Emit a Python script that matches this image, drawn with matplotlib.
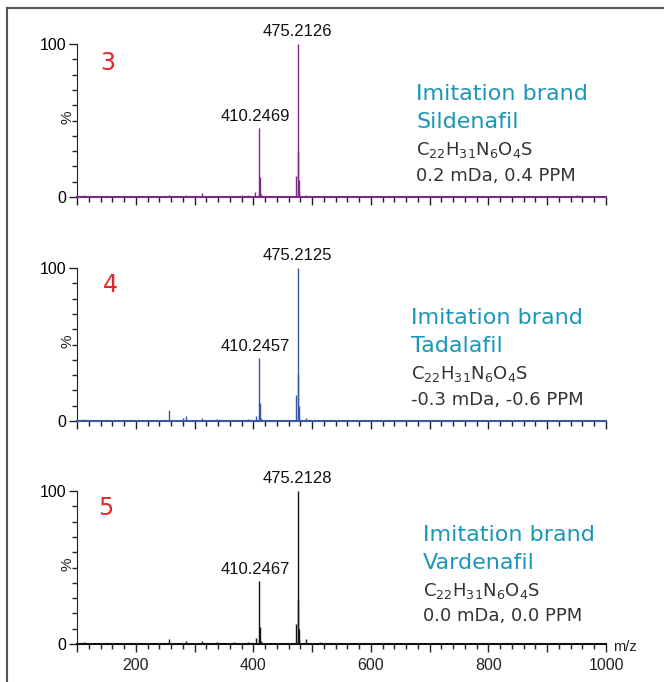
import matplotlib
matplotlib.use("Agg")
import matplotlib.pyplot as plt
from matplotlib.ticker import MultipleLocator
from matplotlib.lines import Line2D

# ---- data ----
panel_ids = ["3", "4", "5"]
compound_names = ["Sildenafil", "Tadalafil", "Vardenafil"]
error_texts = ["0.2 mDa, 0.4 PPM", "-0.3 mDa, -0.6 PPM", "0.0 mDa, 0.0 PPM"]
base_peak_labels = ["475.2126", "475.2125", "475.2128"]
frag_peak_labels = ["410.2469", "410.2457", "410.2467"]
series_colors = ["#7b2a85", "#3a56a6", "#111111"]

# main peaks (m/z, intensity %)
main_mz = [409.2, 410.25, 411.25, 412.25, 473.2, 475.21, 476.21, 477.21, 478.21]
main_int_1 = [3.0, 45.0, 13.0, 2.0, 14.0, 100.0, 30.0, 11.0, 3.0]
main_int_2 = [3.0, 41.0, 12.0, 2.0, 17.0, 100.0, 31.0, 10.0, 3.0]
main_int_3 = [3.0, 41.0, 11.0, 2.0, 13.0, 100.0, 29.0, 10.0, 3.0]

# minor peaks
minor_mz_1 = [112, 129, 150, 175, 198, 230, 257, 285, 312, 338, 365, 381, 391, 403, 446, 489, 520, 560, 605, 690, 760, 830, 890, 951]
minor_int_1 = [1.0, 0.6, 0.5, 0.6, 0.4, 0.5, 1.0, 1.2, 2.5, 0.8, 0.6, 1.2, 1.0, 3.5, 0.6, 1.5, 0.5, 0.4, 0.5, 0.4, 0.4, 0.4, 0.4, 1.0]
minor_mz_2 = [112, 129, 150, 175, 198, 230, 257, 280, 285, 312, 338, 365, 391, 404, 446, 489, 520, 560, 605, 690, 760, 830, 890, 951]
minor_int_2 = [1.0, 0.6, 0.5, 0.6, 0.4, 0.5, 7.0, 2.0, 3.5, 2.0, 1.0, 0.6, 1.5, 3.0, 0.6, 2.0, 0.5, 0.4, 0.5, 0.4, 0.4, 0.4, 0.4, 0.6]
minor_mz_3 = [112, 129, 140, 175, 198, 230, 257, 285, 312, 338, 351, 367, 391, 404, 446, 489, 513, 560, 605, 690, 760, 830, 890, 951]
minor_int_3 = [1.0, 0.8, 0.6, 0.6, 0.4, 0.5, 3.0, 2.2, 2.0, 1.0, 0.8, 1.0, 1.5, 4.0, 0.6, 3.0, 1.0, 0.4, 0.5, 0.4, 0.4, 0.4, 0.4, 0.6]

main_ints = [main_int_1, main_int_2, main_int_3]
minor_mzs = [minor_mz_1, minor_mz_2, minor_mz_3]
minor_ints = [minor_int_1, minor_int_2, minor_int_3]

x_min, x_max = 100, 1000
x_ticks_labeled = [200, 400, 600, 800, 1000]

plt.rcParams['font.family'] = ['Liberation Sans', 'DejaVu Sans']
plt.rcParams['mathtext.fontset'] = 'dejavusans'

fig = plt.figure(figsize=(6.64, 6.82), dpi=100)
W, H = 664, 682

def fx(px):
    return px / W

def fy(py):
    return 1 - py / H

# border lines (left and top)
fig.add_artist(Line2D([fx(7), fx(7)], [fy(682), fy(8)], color="#555555", lw=1.5, transform=fig.transFigure))
fig.add_artist(Line2D([fx(7), fx(664)], [fy(8), fy(8)], color="#555555", lw=1.5, transform=fig.transFigure))

ax_left_px, ax_right_px = 77, 606
bottoms_px = [197, 421, 644]
ax_h_px = 153

text_cyan = "#1a96b8"
red = "#e5252a"

text_x = [677, 668, 689]
text_y = [0.67, 0.67, 0.71]
num_y = [0.875, 0.89, 0.89]
num_x = [108, 110, 106]

for i in range(3):
    b = bottoms_px[i]
    ax = fig.add_axes([fx(ax_left_px), fy(b), (ax_right_px - ax_left_px) / W, ax_h_px / H])
    c = series_colors[i]
    ax.vlines(minor_mzs[i], 0, minor_ints[i], color=c, lw=1.0)
    ax.vlines(main_mz, 0, main_ints[i], color=c, lw=1.0)
    ax.axhline(0, color=c, lw=2.0, zorder=3)
    ax.set_xlim(x_min, x_max)
    ax.set_ylim(0, 100)
    for s in ["top", "right"]:
        ax.spines[s].set_visible(False)
    ax.spines["left"].set_color("#222222")
    ax.spines["bottom"].set_color(c)
    ax.spines["bottom"].set_linewidth(1.5)
    ax.set_yticks([0, 100])
    ax.yaxis.set_minor_locator(MultipleLocator(10))
    ax.xaxis.set_major_locator(MultipleLocator(100))
    ax.xaxis.set_minor_locator(MultipleLocator(20))
    ax.tick_params(axis="both", which="major", direction="out", length=6, width=1, color="#222222", labelsize=11.5, pad=2)
    ax.tick_params(axis="both", which="minor", direction="out", length=3.5, width=1, color="#222222")
    if i == 2:
        ax.set_xticks(list(range(100, 1001, 100)))
        ax.set_xticklabels(["" if v not in x_ticks_labeled else str(v) for v in range(100, 1001, 100)])
        ax.tick_params(axis="x", labelsize=11.5, pad=4, colors="#222222")
    else:
        ax.tick_params(axis="x", labelbottom=False)
    ax.text(-0.018, 0.52, "%", rotation=90, ha="center", va="center", fontsize=11, color="#222222",
            transform=ax.transAxes)
    ax.patch.set_alpha(0)

    # peak labels
    ax.text(475.21, 103, base_peak_labels[i], ha="center", va="bottom", fontsize=12, color="#111111", clip_on=False)
    ax.text(403, 48 if i == 0 else 44, frag_peak_labels[i], ha="center", va="bottom", fontsize=12, color="#111111", clip_on=False)

    # panel number
    xnum = 100 + (num_x[i] - 77) / 0.5875
    ax.text(xnum, num_y[i] * 100, panel_ids[i], ha="center", va="center", fontsize=17, color=red,
            family=["DejaVu Sans"])

    # annotation text
    tx = text_x[i]
    ty = text_y[i] * 100
    ax.text(tx, ty, "Imitation brand", ha="left", va="center", fontsize=16, color=text_cyan, family=["DejaVu Sans"], clip_on=False)
    ax.text(tx, ty - 18, compound_names[i], ha="left", va="center", fontsize=16, color=text_cyan, family=["DejaVu Sans"], clip_on=False)
    ax.text(tx, ty - 36.5, r"C$_{22}$H$_{31}$N$_{6}$O$_{4}$S", ha="left", va="center", fontsize=13, color="#333333", family=["DejaVu Sans"], clip_on=False)
    ax.text(tx, ty - 53, error_texts[i], ha="left", va="center", fontsize=13, color="#333333", family=["DejaVu Sans"], clip_on=False)

    if i == 2:
        ax.text(1012, -2, "m/z", ha="left", va="center", fontsize=10.5, color="#222222", clip_on=False)

fig.savefig("out.png", dpi=100)
